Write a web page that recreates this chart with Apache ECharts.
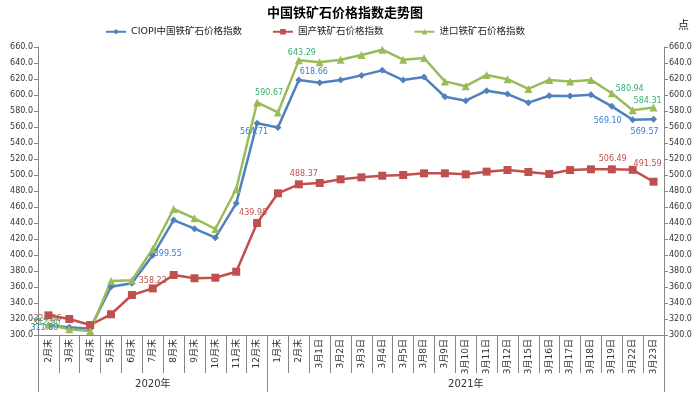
<!DOCTYPE html>
<html>
<head>
<meta charset="utf-8">
<script src="https://cdn.jsdelivr.net/npm/echarts@6/dist/echarts.min.js"></script>
<style>html,body{margin:0;padding:0;background:#fff;}#c{width:698px;height:394px;}</style>
</head>
<body>
<div id="c"></div>
<script>
const categories = ['2月末','3月末','4月末','5月末','6月末','7月末','8月末','9月末','10月末','11月末','12月末',
  '1月末','2月末','3月1日','3月2日','3月3日','3月4日','3月5日','3月8日','3月9日','3月10日','3月11日','3月12日',
  '3月15日','3月16日','3月17日','3月18日','3月19日','3月22日','3月23日'];
const yearLabels = ['2020年', '2021年'];
const yearCounts = [11, 19];
const seriesNames = ['CIOPI中国铁矿石价格指数', '国产铁矿石价格指数', '进口铁矿石价格指数'];
const ciopi = [311.80, 309.6, 307.9, 360.4, 364.6, 399.55, 443.7, 432.9, 421.6, 464.6, 564.71,
  559.5, 618.66, 615.4, 618.7, 624.5, 630.8, 618.7, 622.4, 597.8, 592.9, 605.4, 601.2,
  590.4, 599.1, 598.7, 600.4, 585.8, 569.10, 569.57];
const domestic = [324.56, 320.0, 312.5, 325.9, 350.0, 358.22, 375.0, 370.9, 371.6, 379.1, 439.98,
  477.1, 488.37, 490.0, 494.6, 497.1, 499.1, 500.0, 502.1, 502.1, 500.8, 504.2, 506.2,
  503.8, 501.3, 506.2, 507.1, 507.1, 506.49, 491.59];
const imported = [312.90, 307.1, 305.0, 367.5, 368.5, 407.5, 457.5, 445.8, 432.5, 482.5, 590.67,
  578.2, 643.29, 640.8, 644.1, 650.0, 656.6, 644.1, 646.2, 617.0, 611.0, 625.1, 619.7,
  607.6, 618.9, 616.8, 618.9, 602.2, 580.94, 584.31];
const yTicks = [300, 660, 20];

// label offsets (style only): index -> [dx, dy]
const labelOffsets = [
  {0: [-4, 2], 5: [15, -1], 10: [-3, 9], 12: [15, -8], 28: [-25, 1], 29: [-9, 13]},
  {0: [-1, 4], 5: [0, -8], 10: [-4, -10], 12: [5, -10], 28: [-20, -11], 29: [-6, -18]},
  {0: [-2, -2], 10: [12, -10], 12: [3, -7], 28: [-3, -21], 29: [-6, -7]}
];
const lineColors = ['#4f81bd', '#c0504d', '#9bbb59'];
const labelColors = ['#3b7cc9', '#c0504d', '#35ad73'];
const symbols = ['diamond', 'rect', 'triangle'];
const symbolSizes = [7, 8, 8];
const values = [ciopi, domestic, imported];

const yearAxisData = [];
const yearLabelAt = {};
const yearBoundary = {};
let start = 0;
yearCounts.forEach((n, k) => {
  yearBoundary[start] = true;
  yearLabelAt[start + Math.floor(n / 2)] = yearLabels[k];
  start += n;
});
categories.forEach((c, i) => yearAxisData.push(yearLabelAt[i] || ''));

const font = "'DejaVu Sans', 'Noto Sans CJK SC', sans-serif";
const axisGray = '#868686';

const series = values.map((arr, s) => ({
  name: seriesNames[s],
  type: 'line',
  xAxisIndex: 0,
  yAxisIndex: 0,
  symbol: symbols[s],
  symbolSize: symbolSizes[s],
  lineStyle: {width: 2.5, color: lineColors[s]},
  itemStyle: {color: lineColors[s]},
  emphasis: {disabled: true},
  animation: false,
  data: arr.map((v, i) => {
    const off = labelOffsets[s][i];
    if (!off) return v;
    return {
      value: v,
      label: {
        show: true, position: 'inside', offset: off,
        formatter: (p) => p.value.toFixed(2),
        color: labelColors[s], fontSize: 8, fontFamily: font
      }
    };
  })
}));

const chart = echarts.init(document.getElementById('c'), null, {renderer: 'canvas'});
chart.setOption({
  backgroundColor: '#fff',
  animation: false,
  title: [
    {text: '中国铁矿石价格指数走势图', left: 262, top: 1,
      textStyle: {fontSize: 13, fontWeight: 'bold', color: '#000', fontFamily: "'Noto Sans CJK SC', serif"}},
    {text: '点', left: 673, top: 14,
      textStyle: {fontSize: 11, fontWeight: 'normal', color: '#222', fontFamily: "'Noto Sans CJK SC', sans-serif"}}
  ],
  legend: {
    left: 100, top: 22, itemWidth: 20, itemHeight: 7, itemGap: 30,
    textStyle: {fontSize: 9.5, color: '#222', fontFamily: font},
    data: seriesNames
  },
  grid: {left: 38, right: 34, top: 47, bottom: 59, containLabel: false},
  xAxis: [
    {
      type: 'category', data: categories, boundaryGap: true, position: 'bottom',
      axisLine: {show: true, lineStyle: {color: axisGray, width: 1}},
      axisTick: {show: true, interval: 0, length: 38, lineStyle: {color: axisGray}},
      axisLabel: {interval: 0, rotate: 90, margin: 4, fontSize: 9, color: '#333', fontFamily: font}
    },
    {
      type: 'category', data: yearAxisData, boundaryGap: true, position: 'bottom',
      axisLine: {show: false},
      axisTick: {show: true, interval: (i) => !!yearBoundary[i], length: 57, lineStyle: {color: axisGray}},
      axisLabel: {interval: (i) => !!yearLabelAt[i], margin: 44, fontSize: 10, color: '#333', fontFamily: font}
    }
  ],
  yAxis: [
    {
      type: 'value', min: yTicks[0], max: yTicks[1], interval: yTicks[2], position: 'left',
      axisLine: {show: true, lineStyle: {color: axisGray}},
      axisTick: {show: true, length: 4, lineStyle: {color: axisGray}},
      splitLine: {show: false},
      axisLabel: {formatter: (v) => v.toFixed(1), fontSize: 8, color: '#333', margin: 5, fontFamily: font}
    },
    {
      type: 'value', min: yTicks[0], max: yTicks[1], interval: yTicks[2], position: 'right',
      axisLine: {show: true, lineStyle: {color: axisGray}},
      axisTick: {show: true, length: 4, lineStyle: {color: axisGray}},
      splitLine: {show: false},
      axisLabel: {formatter: (v) => v.toFixed(1), fontSize: 8, color: '#333', margin: 5, fontFamily: font}
    }
  ],
  series: series
});
</script>
</body>
</html>
